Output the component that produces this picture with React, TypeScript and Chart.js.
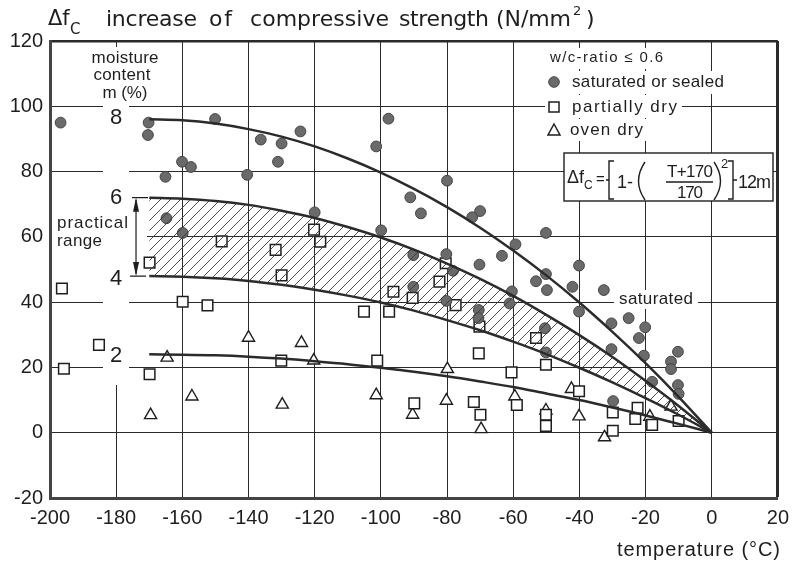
import React, { useEffect, useRef } from "react";
import { Chart, registerables } from "chart.js";
Chart.register(...registerables);

// ---- data ----
const curveT = [-170, -160, -150, -140, -130, -120, -110, -100, -90, -80, -70, -60, -50, -40, -30, -20, -10, 0];
const curveM8 = [96, 95.7, 94.7, 93.0, 90.7, 87.7, 84.0, 79.7, 74.7, 69.1, 62.8, 55.8, 48.2, 39.9, 30.9, 21.3, 11.0, 0];
const curveM6 = [72, 71.7, 71.0, 69.8, 68.0, 65.8, 63.0, 59.8, 56.1, 51.8, 47.1, 41.9, 36.1, 29.9, 23.2, 15.9, 8.2, 0];
const curveM4 = [48, 47.8, 47.3, 46.5, 45.3, 43.8, 42.0, 39.9, 37.4, 34.5, 31.4, 27.9, 24.1, 19.9, 15.4, 10.6, 5.5, 0];
const curveM2 = [24, 23.9, 23.7, 23.3, 22.7, 21.9, 21.0, 19.9, 18.7, 17.3, 15.7, 14.0, 12.0, 10.0, 7.7, 5.3, 2.7, 0];

const satT = [-196.8, -170.2, -170.4, -150.1, -136.3, -130.0, -131.1, -160.1, -157.4, -165.1, -140.4, -164.8, -159.9, -124.3, -97.7, -101.4, -80.0, -91.1, -87.9, -70.0, -72.4, -59.3, -120.0, -99.9, -50.1, -90.2, -80.2, -78.2, -70.2, -63.4, -90.2, -80.2, -70.4, -70.5, -60.4, -61.1, -40.1, -50.1, -53.1, -49.8, -42.1, -32.6, -40.1, -30.3, -25.1, -20.1, -22.0, -50.4, -50.1, -30.3, -20.5, -10.2, -12.3, -12.3, -18.0, -10.2, -10.0, -29.8];
const satV = [95.0, 95.0, 91.2, 96.1, 89.8, 88.6, 83.0, 83.0, 81.4, 78.4, 79.0, 65.7, 61.2, 92.3, 96.2, 87.7, 77.2, 72.1, 67.2, 67.9, 66.0, 57.7, 67.5, 62.0, 61.2, 54.4, 54.7, 49.6, 51.5, 54.2, 44.7, 40.4, 37.6, 35.1, 43.3, 39.6, 51.2, 48.6, 46.4, 43.7, 44.7, 43.7, 37.1, 33.5, 35.1, 32.3, 29.0, 32.0, 24.6, 25.6, 23.6, 24.8, 21.8, 19.5, 15.6, 14.6, 11.9, 9.7];

const dryT = [-148.1, -131.8, -120.2, -118.3, -169.9, -130.0, -196.4, -159.9, -152.4, -185.2, -195.8, -169.9, -130.1, -80.4, -82.3, -96.2, -90.4, -77.4, -105.1, -97.5, -70.2, -70.4, -101.1, -60.5, -89.9, -71.9, -69.9, -58.9, -53.1, -50.1, -40.1, -50.1, -50.1, -29.9, -29.9, -22.4, -23.1, -18.0, -10.0];
const dryV = [58.6, 56.0, 62.2, 58.5, 52.1, 48.2, 44.2, 40.1, 39.0, 26.9, 19.6, 17.9, 22.1, 51.9, 46.3, 43.2, 41.3, 39.1, 37.1, 37.1, 32.5, 24.3, 22.1, 18.5, 9.0, 9.4, 5.5, 8.5, 29.0, 20.8, 12.7, 5.5, 2.1, 6.2, 0.6, 7.6, 4.2, 2.4, 3.6];

const ovenT = [-164.6, -140.0, -157.1, -169.6, -129.8, -124.0, -120.3, -101.4, -90.4, -79.9, -80.2, -69.7, -59.5, -42.4, -50.1, -40.1, -32.4, -18.7, -12.3];
const ovenV = [23.0, 29.1, 11.1, 5.4, 8.6, 27.5, 22.1, 11.5, 5.5, 19.5, 9.8, 1.1, 11.1, 13.4, 6.8, 5.0, -1.4, 4.9, 8.0];

const curveLabels = ["8", "6", "4", "2"];
const curveLabelV = [96.5, 72, 47, 23.5];

const xTicksMin = -200, xTicksMax = 20, yTicksMin = -20, yTicksMax = 120, tickStep = 20;

const F = '"Liberation Sans", Arial, sans-serif';
const FT = '"DejaVu Sans", "Liberation Sans", sans-serif';
const INK = "#1e1e1e";

const xy = (xs: number[], ys: number[]) => xs.map((x, i) => ({ x, y: ys[i] }));

function txt(ctx: CanvasRenderingContext2D, s: string, x: number, y: number, size: number, w?: number, align: "left" | "center" | "right" = "left", fam: string = F): number {
  ctx.save();
  ctx.font = `${size}px ${fam}`;
  ctx.fillStyle = INK;
  ctx.textBaseline = "middle";
  ctx.textAlign = "left";
  (ctx as any).letterSpacing = "0px";
  const n = [...s].length;
  let width = ctx.measureText(s).width;
  if (w && n > 1) {
    let ls = (w - width) / (n - 1);
    ls = Math.max(-2, Math.min(8, ls));
    (ctx as any).letterSpacing = ls + "px";
    width = width + ls * (n - 1);
  }
  let left = x;
  if (align === "center") left = x - width / 2;
  if (align === "right") left = x - width;
  ctx.fillText(s, left, y);
  ctx.restore();
  return left + width;
}

function whiteRect(ctx: CanvasRenderingContext2D, x0: number, y0: number, x1: number, y1: number) {
  ctx.save();
  ctx.fillStyle = "#fff";
  ctx.fillRect(x0, y0, x1 - x0, y1 - y0);
  ctx.restore();
}

const decor = {
  id: "decor",
  beforeDatasetsDraw(chart: any) {
    const ctx = chart.ctx as CanvasRenderingContext2D;
    // gaps in the grid behind lettering
    whiteRect(ctx, 103, 47, 129, 385);
    whiteRect(ctx, 88, 47, 162, 101);
    whiteRect(ctx, 52, 213, 147, 250);
    whiteRect(ctx, 545, 48, 668, 69);
    whiteRect(ctx, 545, 71, 728, 94);
    whiteRect(ctx, 545, 95, 682, 118);
    whiteRect(ctx, 545, 119, 648, 141);
    whiteRect(ctx, 614, 290, 698, 309);
  },
  afterDraw(chart: any) {
    const ctx = chart.ctx as CanvasRenderingContext2D;
    const xs = chart.scales.x, ys = chart.scales.y;

    // title
    txt(ctx, "\u0394f", 48, 20, 21, undefined, "left", FT);
    txt(ctx, "C", 70, 30, 15, undefined, "left", FT);
    txt(ctx, "increase", 106, 20, 22, 91, "left", FT);
    txt(ctx, "of", 209, 20, 22, 23, "left", FT);
    txt(ctx, "compressive", 250, 20, 22, 139, "left", FT);
    txt(ctx, "strength", 399, 20, 22, 90, "left", FT);
    txt(ctx, "(N/mm", 496, 20, 22, 75, "left", FT);
    txt(ctx, "2", 573, 12, 13, undefined, "left", FT);
    txt(ctx, ")", 586, 20, 22, undefined, "left", FT);

    // axis title
    txt(ctx, "temperature (\u00B0C)", 617, 550, 20, 163);

    // left annotations
    txt(ctx, "moisture", 125, 58, 17, 67, "center");
    txt(ctx, "content", 122, 75, 17, 57, "center");
    txt(ctx, "m (%)", 125, 93, 17, 45, "center");
    txt(ctx, "practical", 57, 223, 17, 71);
    txt(ctx, "range", 57, 241, 17, 45);
    curveLabels.forEach((s, i) => txt(ctx, s, xs.getPixelForValue(-180), ys.getPixelForValue(curveLabelV[i]), 22, undefined, "center"));

    // practical range arrow
    const ax = xs.getPixelForValue(-174);
    const ay0 = ys.getPixelForValue(72), ay1 = ys.getPixelForValue(48);
    ctx.save();
    ctx.strokeStyle = INK;
    ctx.fillStyle = INK;
    ctx.lineWidth = 1.2;
    ctx.beginPath();
    ctx.moveTo(ax, ay0 + 2); ctx.lineTo(ax, ay1 - 2);
    ctx.moveTo(ax - 4, ay0); ctx.lineTo(ax + 12, ay0);
    ctx.moveTo(ax - 6, ay1); ctx.lineTo(ax + 10, ay1);
    ctx.stroke();
    ctx.beginPath();
    ctx.moveTo(ax, ay0); ctx.lineTo(ax - 3, ay0 + 14); ctx.lineTo(ax + 3, ay0 + 14); ctx.closePath();
    ctx.moveTo(ax, ay1); ctx.lineTo(ax - 3, ay1 - 14); ctx.lineTo(ax + 3, ay1 - 14); ctx.closePath();
    ctx.fill();
    ctx.restore();

    // legend
    txt(ctx, "w/c-ratio \u2264 0.6", 550, 58, 15, 113);
    ctx.save();
    ctx.fillStyle = "#6a6a6a"; ctx.strokeStyle = "#444"; ctx.lineWidth = 1;
    ctx.beginPath(); ctx.arc(554, 82, 5.3, 0, Math.PI * 2); ctx.fill(); ctx.stroke();
    ctx.fillStyle = "#fff"; ctx.strokeStyle = INK; ctx.lineWidth = 1.5;
    ctx.fillRect(549, 102, 10, 10); ctx.strokeRect(549, 102, 10, 10);
    ctx.beginPath(); ctx.moveTo(554, 124); ctx.lineTo(560, 135); ctx.lineTo(548, 135); ctx.closePath(); ctx.fill(); ctx.stroke();
    ctx.restore();
    txt(ctx, "saturated or sealed", 572, 82, 17, 152);
    txt(ctx, "partially dry", 572, 107, 17, 105);
    txt(ctx, "oven dry", 570, 130, 17, 73);

    // saturated label
    txt(ctx, "saturated", 619, 299, 17, 74);

    // formula box
    ctx.save();
    ctx.fillStyle = "#fff";
    ctx.fillRect(564, 153, 209, 48);
    ctx.strokeStyle = INK; ctx.lineWidth = 1.4;
    ctx.strokeRect(564, 153, 209, 48);
    ctx.restore();
    txt(ctx, "\u0394f", 567, 178, 18);
    txt(ctx, "C", 584, 186, 12);
    txt(ctx, "=", 596, 180, 15);
    ctx.save();
    ctx.strokeStyle = INK; ctx.lineWidth = 1.4;
    ctx.beginPath();
    // [
    ctx.moveTo(614, 161); ctx.lineTo(609, 161); ctx.lineTo(609, 199); ctx.lineTo(614, 199);
    ctx.moveTo(606, 180); ctx.lineTo(609, 180);
    // ]
    ctx.moveTo(728, 161); ctx.lineTo(733, 161); ctx.lineTo(733, 199); ctx.lineTo(728, 199);
    ctx.moveTo(733, 180); ctx.lineTo(737, 180);
    // ( )
    ctx.moveTo(645, 162); ctx.quadraticCurveTo(632, 181, 645, 200);
    ctx.moveTo(714, 162); ctx.quadraticCurveTo(727, 181, 714, 200);
    // fraction
    ctx.moveTo(666, 182); ctx.lineTo(713, 182);
    ctx.stroke();
    ctx.restore();
    txt(ctx, "1-", 617, 183, 18);
    txt(ctx, "T+170", 690, 172, 17, 46, "center");
    txt(ctx, "170", 690, 193, 17, 26, "center");
    txt(ctx, "2", 721, 164, 13);
    txt(ctx, "12m", 738, 183, 18, 33);
  },
};

export default function App() {
  const ref = useRef<HTMLCanvasElement>(null);
  useEffect(() => {
    const canvas = ref.current!;
    // hatch pattern
    const pc = document.createElement("canvas");
    pc.width = 10; pc.height = 10;
    const p = pc.getContext("2d")!;
    p.strokeStyle = "#3a3a3a"; p.lineWidth = 0.9;
    p.beginPath();
    p.moveTo(0, 10); p.lineTo(10, 0);
    p.moveTo(-1, 1); p.lineTo(1, -1);
    p.moveTo(9, 11); p.lineTo(11, 9);
    p.stroke();
    const pattern = canvas.getContext("2d")!.createPattern(pc, "repeat");

    const curve = (ys: number[], extra: any = {}) => ({
      data: xy(curveT, ys),
      borderColor: "#2b2b2b",
      borderWidth: 2.5,
      pointRadius: 0,
      cubicInterpolationMode: "monotone",
      fill: false,
      ...extra,
    });

    const chart = new Chart(canvas, {
      type: "line",
      data: {
        datasets: [
          curve(curveM8),
          curve(curveM6, { fill: "+1", backgroundColor: pattern }),
          curve(curveM4),
          curve(curveM2),
          {
            data: xy(satT, satV), showLine: false, pointStyle: "circle", pointRadius: 5.4,
            pointBackgroundColor: "#6a6a6a", pointBorderColor: "#444", pointBorderWidth: 1,
          } as any,
          {
            data: xy(dryT, dryV), showLine: false, pointStyle: "rect", pointRadius: 7.5,
            pointBackgroundColor: "#fff", pointBorderColor: INK, pointBorderWidth: 1.5,
          } as any,
          {
            data: xy(ovenT, ovenV), showLine: false, pointStyle: "triangle", pointRadius: 7,
            pointBackgroundColor: "#fff", pointBorderColor: INK, pointBorderWidth: 1.4,
          } as any,
        ],
      },
      options: {
        responsive: false,
        animation: false,
        events: [],
        layout: { padding: { top: 41, right: 16, left: 0, bottom: 0 } },
        plugins: { legend: { display: false }, tooltip: { enabled: false }, title: { display: false } },
        scales: {
          x: {
            type: "linear", min: xTicksMin, max: xTicksMax,
            afterFit: (s: any) => { s.height = 70; },
            ticks: { stepSize: tickStep, color: INK, font: { family: F, size: 20 }, padding: 8, maxRotation: 0 },
            grid: {
              drawTicks: false, color: "#2a2a2a",
              lineWidth: (c: any) => (c.tick && c.tick.value === xTicksMax ? 3 : 1),
            },
            border: { display: true, color: "#444", width: 3 },
          },
          y: {
            min: yTicksMin, max: yTicksMax,
            afterFit: (s: any) => { s.width = 50; },
            ticks: { stepSize: tickStep, color: INK, font: { family: F, size: 20 }, padding: 7 },
            grid: {
              drawTicks: false, color: "#2a2a2a",
              lineWidth: (c: any) => (c.tick && c.tick.value === yTicksMax ? 2.5 : 1),
            },
            border: { display: true, color: "#444", width: 3 },
          },
        },
      } as any,
      plugins: [decor],
    });
    return () => chart.destroy();
  }, []);
  return (
    <div style={{ position: "absolute", left: 0, top: 0, width: 797, height: 568, background: "#fff" }}>
      <canvas ref={ref} width={797} height={568} />
    </div>
  );
}
